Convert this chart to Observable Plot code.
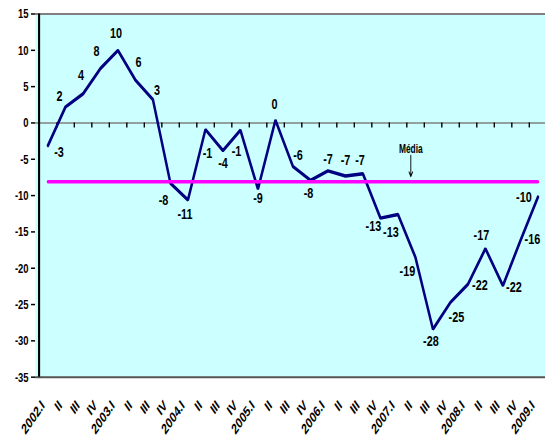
<!DOCTYPE html>
<html><head><meta charset="utf-8">
<script src="https://cdn.jsdelivr.net/npm/d3@7"></script>
<script src="https://cdn.jsdelivr.net/npm/@observablehq/plot@0.6"></script>
<style>
html,body{margin:0;padding:0;background:#fff;overflow:hidden;width:545px;height:441px}
#chart{width:545px;height:441px;overflow:hidden;position:relative}
#chart svg{max-width:none;transform-origin:0 0;position:absolute;left:0;top:0}
</style></head><body><div id="chart"></div>
<script>
// ---- data ----
const categories = [
  "2002.I","2002.II","2002.III","2002.IV",
  "2003.I","2003.II","2003.III","2003.IV",
  "2004.I","2004.II","2004.III","2004.IV",
  "2005.I","2005.II","2005.III","2005.IV",
  "2006.I","2006.II","2006.III","2006.IV",
  "2007.I","2007.II","2007.III","2007.IV",
  "2008.I","2008.II","2008.III","2008.IV",
  "2009.I"
];
const tickLabels = [
  "2002.I","II","III","IV",
  "2003.I","II","III","IV",
  "2004.I","II","III","IV",
  "2005.I","II","III","IV",
  "2006.I","II","III","IV",
  "2007.I","II","III","IV",
  "2008.I","II","III","IV",
  "2009.I"
];
const values = [
  -3.1, 2.2, 4.0, 7.5,
  10.0, 5.9, 3.2, -8.3,
  -10.6, -0.9, -3.8, -1.0,
  -9.1, 0.4, -6.0, -7.9,
  -6.6, -7.3, -7.0, -13.1,
  -12.6, -18.5, -28.4, -24.7,
  -22.2, -17.3, -22.4, -16.2,
  -10.2
];
const valueLabels = [
  "-3","2","4","8",
  "10","6","3","-8",
  "-11","-1","-4","-1",
  "-9","0","-6","-8",
  "-7","-7","-7","-13",
  "-13","-19","-28","-25",
  "-22","-17","-22","-16",
  "-10"
];
const media = -8.1;
const mediaLabel = "Média";
const mediaAt = "2007.II";
const yTicks = [15, 10, 5, 0, -5, -10, -15, -20, -25, -30, -35];

// ---- layout (label offsets in final pixels) ----
const labelOffsets = [
  [11,7],[-6,-11],[-2,-19],[-4,-17],
  [-2,-17],[3,-18],[4,-10],[-7,17],
  [-3,14],[2,24],[0,12],[-4,21],
  [0,9],[-1,-16],[5,-11],[-2,13],
  [0,-12],[0,-16],[-3,-14],[-7,8],
  [-7,18],[-8,14],[-2,12],[6,15],
  [12,1],[-4,-14],[11,1],[12,-2],
  [-14,0]
];
const S = 0.7;               // horizontal squeeze of the original picture
const W = 545 / S;
const plotLeft = 35 / S;
const step = 17.75 / S;
const plotRight = plotLeft + step * categories.length;
const plotTop = 13.5, plotBottom = 376.7, H = 441;
const pxPerUnit = (plotBottom - plotTop) / 50;
const mediaPx = plotTop + (15 - media) * pxPerUnit;
const arrowTop = 15 - (155 - plotTop) / pxPerUnit;
const arrowTip = 15 - (176 - plotTop) / pxPerUnit;

const font = "'Liberation Sans', Arial, Helvetica, sans-serif";

const labelMarks = valueLabels.map((t, i) =>
  Plot.text([0], {
    x: [categories[i]], y: [values[i]], text: [t],
    dx: labelOffsets[i][0] / S, dy: labelOffsets[i][1],
    textAnchor: "middle", lineAnchor: "middle",
    fontSize: 15.5, fontWeight: "bold", fill: "black"
  })
);

const chart = Plot.plot({
  width: W, height: H,
  marginLeft: plotLeft, marginRight: 0, marginTop: plotTop, marginBottom: H - plotBottom,
  style: {fontFamily: font, color: "black", background: "white", overflow: "visible"},
  x: {type: "point", domain: categories, range: [plotLeft, plotRight], padding: 0.5, align: 0.5, axis: null},
  y: {domain: [-35, 15], axis: null},
  marks: [
    Plot.frame({fill: "#ccffff", stroke: null}),
    Plot.ruleY([15], {stroke: "#808080", strokeWidth: 2}),
    Plot.ruleY([-35], {stroke: "#555555", strokeWidth: 2}),
    Plot.ruleY([0], {stroke: "#808080", strokeWidth: 1.6}),
    Plot.ruleX(categories, {x: d => d, dx: step / 2, y1: 0, y2: -5 / pxPerUnit, stroke: "black", strokeWidth: 2}),
    Plot.ruleX([categories[0]], {x: d => d, dx: -step / 2, y1: 15, y2: -35, stroke: "black", strokeWidth: 3}),
    Plot.axisY(yTicks, {
      tickSize: 5.7, tickPadding: 4, tickFormat: d => String(d),
      fontSize: 13.5, fontWeight: "bold", stroke: "black", strokeWidth: 1.5
    }),
    Plot.text(categories, {
      x: d => d, text: (d, i) => tickLabels[i], frameAnchor: "bottom",
      rotate: -45, textAnchor: "end", lineAnchor: "middle",
      dx: -7, dy: 26, fontSize: 14.5, fontWeight: "bold", fill: "black"
    }),
    Plot.line(values, {x: (d, i) => categories[i], y: d => d, stroke: "#000080", strokeWidth: 3.5, strokeLinejoin: "miter"}),
    Plot.line(categories, {x: d => d, y: () => media, stroke: "#ff00ff", strokeWidth: 3.5}),
    Plot.arrow([0], {
      x1: [mediaAt], x2: [mediaAt], y1: [arrowTop], y2: [arrowTip],
      dx: -6.6, stroke: "black", strokeWidth: 1.3, headLength: 6
    }),
    Plot.text([0], {
      x: [mediaAt], y: [media], text: [mediaLabel], dx: -6.6, dy: 148.3 - mediaPx,
      textAnchor: "middle", lineAnchor: "middle", fontSize: 12, fontWeight: "bold", fill: "black"
    }),
    ...labelMarks
  ]
});
chart.style.transform = `scaleX(${S})`;
chart.style.maxWidth = "none";
document.getElementById("chart").appendChild(chart);
</script>
</body></html>
